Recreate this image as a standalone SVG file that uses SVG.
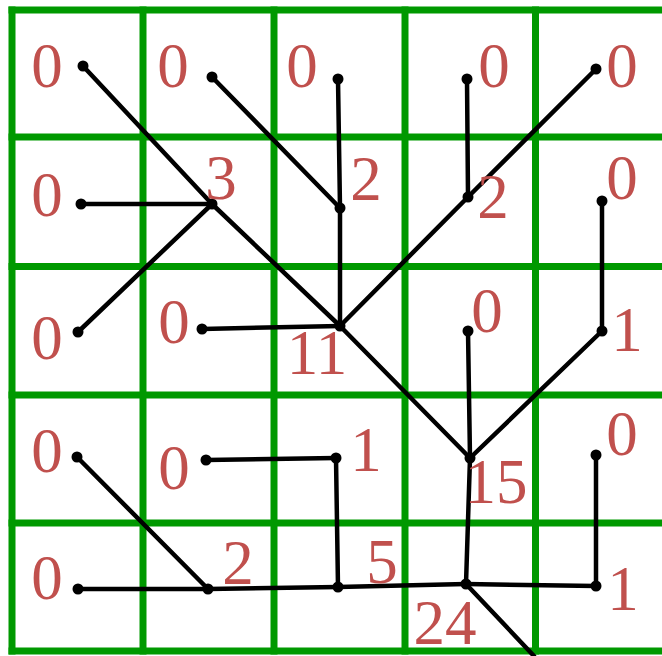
<svg xmlns="http://www.w3.org/2000/svg" width="662" height="656" viewBox="0 0 662 656">
<style>
.grid{stroke:#009900;stroke-width:7;fill:none}
.edge{stroke:#000;stroke-width:4.5;stroke-linecap:round;fill:none}
.dot{fill:#000}
.lbl{font-family:"Liberation Serif","Times New Roman",serif;font-size:63px;fill:#c0504d;text-anchor:middle}
</style>
<rect width="662" height="656" fill="#fff"/>
<g id="grid" class="grid">
<path d="M8.5 10H662M8.5 137H662M8.5 266.5H662M8.5 395H662M8.5 523H662M8.5 651H662"/>
<path d="M12 6.5V654.5M143 6.5V654.5M274 6.5V654.5M405 6.5V654.5M535.5 6.5V654.5"/>
</g>
<g id="connectors" class="edge">
<line x1="83" y1="66" x2="212" y2="204"/>
<line x1="212" y1="204" x2="340" y2="326"/>
<line x1="81" y1="204" x2="212" y2="204"/>
<line x1="78" y1="332" x2="212" y2="204"/>
<line x1="212" y1="77" x2="340" y2="208"/>
<line x1="338" y1="79" x2="340" y2="208"/>
<line x1="340" y1="208" x2="340" y2="326"/>
<line x1="467" y1="79" x2="468" y2="197"/>
<line x1="596" y1="69" x2="468" y2="197"/>
<line x1="468" y1="197" x2="340" y2="326"/>
<line x1="202" y1="329" x2="340" y2="326"/>
<line x1="602" y1="201" x2="602" y2="331"/>
<line x1="340" y1="326" x2="470" y2="458"/>
<line x1="468" y1="331" x2="470" y2="458"/>
<line x1="602" y1="331" x2="470" y2="458"/>
<line x1="77" y1="457" x2="208" y2="589"/>
<line x1="206" y1="460" x2="336" y2="458"/>
<line x1="336" y1="458" x2="338" y2="587"/>
<line x1="78" y1="589" x2="208" y2="589"/>
<line x1="208" y1="589" x2="338" y2="587"/>
<line x1="338" y1="587" x2="466" y2="584"/>
<line x1="470" y1="458" x2="466" y2="584"/>
<line x1="596" y1="455" x2="596" y2="586"/>
<line x1="596" y1="586" x2="466" y2="584"/>
<line x1="466" y1="584" x2="534" y2="656"/>
</g>
<g id="n-a1"><circle class="dot" cx="83" cy="66" r="5.5"/><text class="lbl" x="47" y="87">0</text></g>
<g id="n-b1"><circle class="dot" cx="212" cy="77" r="5.5"/><text class="lbl" x="173" y="87">0</text></g>
<g id="n-c1"><circle class="dot" cx="338" cy="79" r="5.5"/><text class="lbl" x="302" y="87">0</text></g>
<g id="n-d1"><circle class="dot" cx="467" cy="79" r="5.5"/><text class="lbl" x="494" y="87">0</text></g>
<g id="n-e1"><circle class="dot" cx="596" cy="69" r="5.5"/><text class="lbl" x="622" y="87">0</text></g>
<g id="n-a2"><circle class="dot" cx="81" cy="204" r="5.5"/><text class="lbl" x="47" y="216">0</text></g>
<g id="n-b2"><circle class="dot" cx="212" cy="204" r="5.5"/><text class="lbl" x="221" y="199">3</text></g>
<g id="n-c2"><circle class="dot" cx="340" cy="208" r="5.5"/><text class="lbl" x="366" y="200">2</text></g>
<g id="n-d2"><circle class="dot" cx="468" cy="197" r="5.5"/><text class="lbl" x="493" y="218">2</text></g>
<g id="n-e2"><circle class="dot" cx="602" cy="201" r="5.5"/><text class="lbl" x="622" y="199">0</text></g>
<g id="n-a3"><circle class="dot" cx="78" cy="332" r="5.5"/><text class="lbl" x="47" y="359">0</text></g>
<g id="n-b3"><circle class="dot" cx="202" cy="329" r="5.5"/><text class="lbl" x="174" y="343">0</text></g>
<g id="n-c3"><circle class="dot" cx="340" cy="326" r="5.5"/><text class="lbl" x="317" y="374">11</text></g>
<g id="n-d3"><circle class="dot" cx="468" cy="331" r="5.5"/><text class="lbl" x="487" y="332">0</text></g>
<g id="n-e3"><circle class="dot" cx="602" cy="331" r="5.5"/><text class="lbl" x="627" y="351">1</text></g>
<g id="n-a4"><circle class="dot" cx="77" cy="457" r="5.5"/><text class="lbl" x="47" y="472">0</text></g>
<g id="n-b4"><circle class="dot" cx="206" cy="460" r="5.5"/><text class="lbl" x="174" y="489">0</text></g>
<g id="n-c4"><circle class="dot" cx="336" cy="458" r="5.5"/><text class="lbl" x="366" y="471">1</text></g>
<g id="n-d4"><circle class="dot" cx="470" cy="458" r="5.5"/><text class="lbl" x="496" y="503">15</text></g>
<g id="n-e4"><circle class="dot" cx="596" cy="455" r="5.5"/><text class="lbl" x="622" y="455">0</text></g>
<g id="n-a5"><circle class="dot" cx="78" cy="589" r="5.5"/><text class="lbl" x="47" y="599">0</text></g>
<g id="n-b5"><circle class="dot" cx="208" cy="589" r="5.5"/><text class="lbl" x="238" y="584">2</text></g>
<g id="n-c5"><circle class="dot" cx="338" cy="587" r="5.5"/><text class="lbl" x="382" y="583">5</text></g>
<g id="n-d5"><circle class="dot" cx="466" cy="584" r="5.5"/><text class="lbl" x="445" y="644">24</text></g>
<g id="n-e5"><circle class="dot" cx="596" cy="586" r="5.5"/><text class="lbl" x="623" y="610">1</text></g>
</svg>
